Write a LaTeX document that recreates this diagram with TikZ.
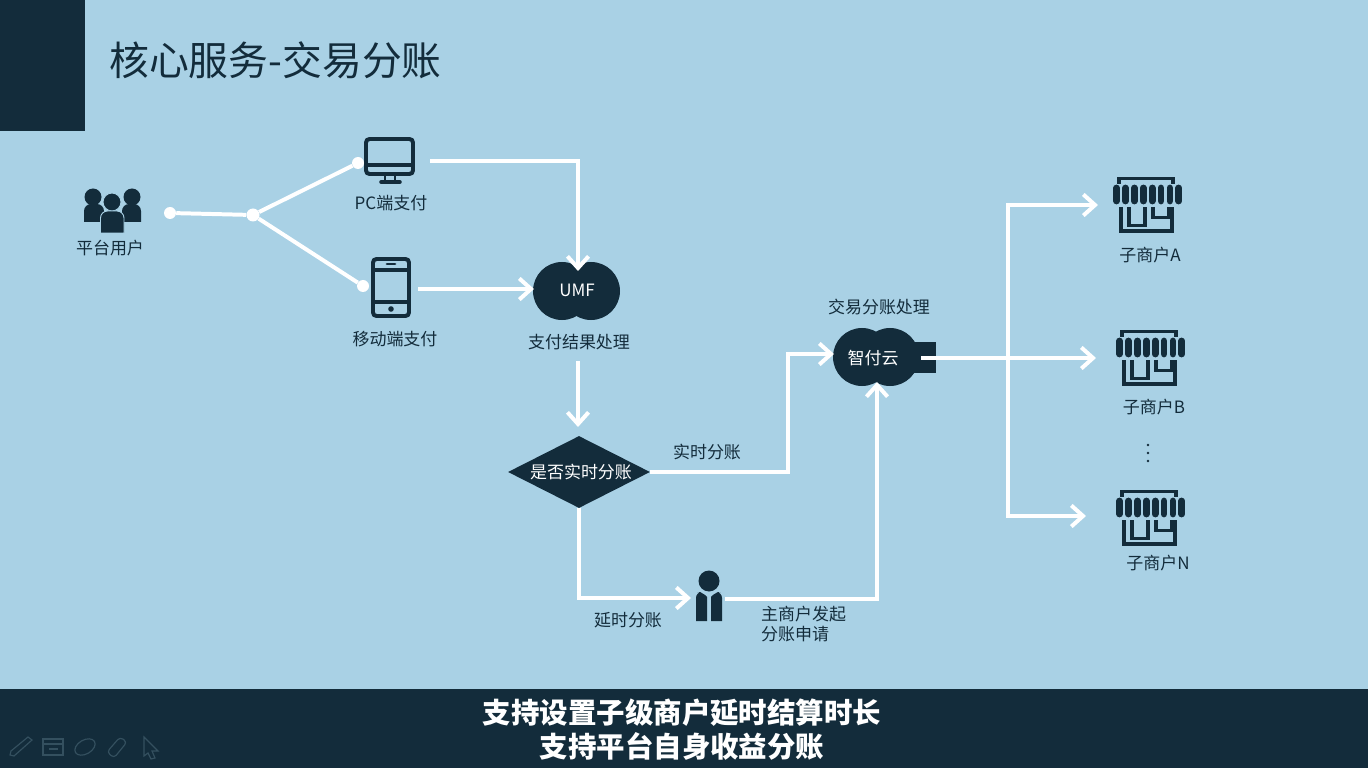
\documentclass[tikz,border=0pt]{standalone}
\usepackage{fontspec}
\setmainfont{Noto Sans CJK SC}
\usetikzlibrary{arrows.meta,shapes.geometric}
\definecolor{skyback}{HTML}{A9D1E5}
\definecolor{navy}{HTML}{132C3B}
\definecolor{toolgrey}{HTML}{34505F}
\tikzset{
  lbl/.style={text=navy,inner sep=0pt,align=left,font=\fontsize{14.5}{17}\selectfont},
  lblw/.style={lbl,text=white},
  lobe/.style={circle,fill=navy,minimum size=1.74cm,inner sep=0pt},
  dot/.style={circle,fill=white,minimum size=0.39cm,inner sep=0pt},
  wire/.style={draw=white,line width=3.4pt},
  flow/.style={wire,-{Straight Barb[length=10pt,width=18pt]}},
  icon/.style={draw=navy,line width=3.4pt},
  thinicon/.style={draw=navy,line width=2.6pt},
  toolicon/.style={draw=toolgrey,line width=1pt},
  pics/storeicon/.style={code={
    \draw[thinicon] (-28,-21) -- (-28,-26.5) -- (26,-26.5) -- (26,-21);
    \foreach \i in {0,...,7}
      \draw[navy,line width=5.8pt,line cap=round] (-30.5+8.9*\i,-17) -- (-30.5+8.9*\i,-4);
    \draw[icon] (-26.5,2) -- (-26.5,26) -- (24.5,26) -- (24.5,2);
    \draw[thinicon] (-18,2) -- (-18,20.5) -- (-2,20.5) -- (-2,2);
    \draw[thinicon] (6,2) -- (6,12.5) -- (22,12.5) -- (22,2);
  }}
}
\begin{document}
\begin{tikzpicture}[x=0.03cm,y=-0.03cm]
  \useasboundingbox (0,0) rectangle (1368,768);
  \fill[skyback] (0,0) rectangle (1368,768);
  \fill[navy] (0,0) rectangle (85,131);
  \fill[navy] (0,689) rectangle (1368,768);

  \node[lbl,anchor=west,font=\fontsize{34}{38}\selectfont] (title) at (109,60) {核心服务-交易分账};

  % users
  \fill[navy] (93,197) circle [radius=8.5];
  \fill[navy] (132,197) circle [radius=8.5];
  \fill[navy] (84,222) [rounded corners=6pt] -- (84,204) -- (104,204) [sharp corners] -- (104,222) -- cycle;
  \fill[navy] (122,222) [rounded corners=6pt] -- (122,204) -- (141,204) [sharp corners] -- (141,222) -- cycle;
  \fill[navy,draw=skyback,line width=0.8pt] (112,202) circle [radius=9];
  \fill[navy,draw=skyback,line width=0.8pt] (100.5,233) [rounded corners=6pt] -- (100.5,211) -- (124,211) [sharp corners] -- (124,233) -- cycle;

  % pc
  \draw[icon,rounded corners=3pt] (366,139) rectangle (413,174);
  \draw[icon] (366,165) -- (413,165);
  \draw[navy,line width=2.5pt] (385,175) -- (385,182);
  \draw[navy,line width=2.5pt] (395,175) -- (395,182);
  \draw[navy,line width=3pt,line cap=round] (381,182) -- (400,182);

  % phone
  \draw[icon,rounded corners=3pt] (373,259) rectangle (409,316);
  \draw[icon] (373,270) -- (409,270);
  \draw[icon] (373,302) -- (409,302);
  \draw[navy,line width=2.5pt,line cap=round] (387,264) -- (395,264);
  \fill[navy] (391,309) circle [radius=2.8];

  \node[lbl] (luser) at (110,248) {平台用户};
  \node[lbl] (lpc) at (391,203) {PC端支付};
  \node[lbl] (lphone) at (395,339) {移动端支付};

  \node[dot,minimum size=0.36cm] (duser) at (170,213) {};
  \node[dot] (djoin) at (253,215) {};
  \node[dot,minimum size=0.36cm] (dpc) at (358,163) {};
  \node[dot,minimum size=0.36cm] (dphone) at (363,286) {};
  \draw[wire] (duser) -- (djoin);
  \draw[wire] (djoin) -- (dpc);
  \draw[wire] (djoin) -- (dphone);

  % umf
  \node[lobe] (umfa) at (562,291) {};
  \node[lobe] (umfb) at (591,291) {};
  \node[lblw] (umf) at (577,290) {UMF};
  \node[lbl] (lumf) at (579,342) {支付结果处理};

  % diamond
  \node[diamond,fill=navy,aspect=2,inner sep=0pt,minimum width=4.26cm,minimum height=2.16cm] (vsplit) at (579,472) {};
  \node[lblw] (lsplit) at (581,472) {是否实时分账};

  % cloud
  \fill[navy] (905,342) rectangle (936,373);
  \node[lobe] (cloa) at (862,357) {};
  \node[lobe] (clob) at (890,357) {};
  \node[lblw] (cloud) at (873,358) {智付云};
  \node[lbl] (lcloud) at (879,307) {交易分账处理};

  % person
  \fill[navy] (709,581) circle [radius=10.5];
  \fill[navy] (696,621) [rounded corners=5pt] -- (696,592) -- (703,592) [sharp corners] -- (707,597) -- (707,621) -- cycle;
  \fill[navy] (722,621) [rounded corners=5pt] -- (722,592) -- (715,592) [sharp corners] -- (711,597) -- (711,621) -- cycle;

  % stores
  \pic at (1147,205) {storeicon};
  \pic at (1150,358) {storeicon};
  \pic at (1150,518) {storeicon};
  \node[lbl] (lstorea) at (1150,255) {子商户A};
  \node[lbl] (lstoreb) at (1154,407) {子商户B};
  \node[lbl] (lstoren) at (1158,563) {子商户N};
  \foreach \y in {445,453,461}
    \fill[navy] (1148,\y) circle [radius=1.4];

  \coordinate (pcout) at (430,161);
  \coordinate (umftop) at (578,271);
  \coordinate (phoneout) at (418,289);
  \coordinate (umfin) at (534,289);
  \coordinate (umfout) at (578,361);
  \coordinate (splitin) at (578,427);
  \coordinate (cloudleft) at (834,354);
  \coordinate (personin) at (691,598);
  \coordinate (personout) at (725,599);
  \coordinate (cloudin) at (877,382);
  \coordinate (cloudout) at (921,358);
  \coordinate (fork) at (1008,358);
  \coordinate (storea) at (1098,205);
  \coordinate (storeb) at (1096,358);
  \coordinate (storen) at (1086,516);

  \draw[flow] (pcout) -| (umftop);
  \draw[flow] (phoneout) -- (umfin);
  \draw[flow] (umfout) -- (splitin);
  \draw[flow] (vsplit.east) -- (788,472) |- (cloudleft);
  \draw[flow] (vsplit.south) |- (personin);
  \draw[flow] (personout) -| (cloudin);
  \draw[flow] (cloudout) -- (storeb);
  \draw[flow] (fork) |- (storea);
  \draw[flow] (fork) |- (storen);

  \node[lbl] (lnow) at (707,452) {实时分账};
  \node[lbl] (llater) at (628,620) {延时分账};
  \node[lbl,anchor=north west] (lapply) at (761,606) {主商户发起\\分账申请};

  % footer
  \node[lblw,font=\fontsize{24.3}{29}\bfseries\selectfont,align=center] (lfoot) at (682,730) {支持设置子级商户延时结算时长\\支持平台自身收益分账};

  % toolbar
  \draw[toolicon] (10,755) -- (14,756) -- (32,740) -- (28,737) -- (11,751) -- cycle;
  \draw[toolicon] (43,739) rectangle (63,755);
  \draw[toolicon] (43,744) -- (63,744);
  \draw[toolicon] (49,749) -- (58,749);
  \draw[toolicon,rotate around={30:(85,747)}] (85,747) ellipse [x radius=11,y radius=7];
  \draw[toolicon,rounded corners=3pt] (107,752) -- (120,737) -- (127,742) -- (114,758) -- cycle;
  \draw[toolicon] (144,737) -- (158,751) -- (152,751) -- (155,758) -- (151,759) -- (148,753) -- (144,756) -- cycle;
\end{tikzpicture}
\end{document}
